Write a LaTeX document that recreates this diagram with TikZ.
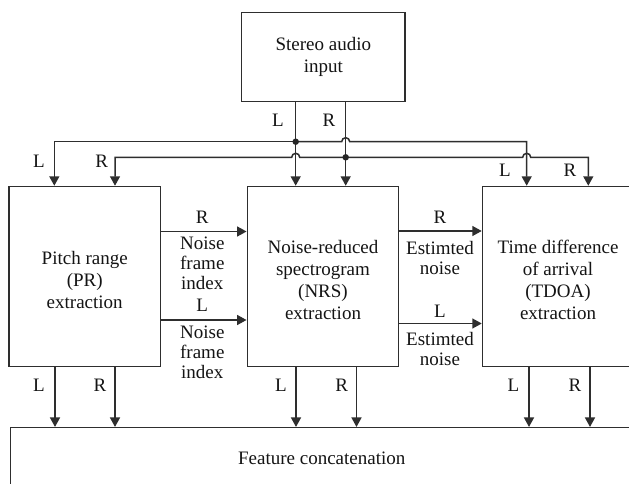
\documentclass[tikz,border=0pt]{standalone}
\usepackage{fontspec}
\setmainfont{Liberation Serif}
\usetikzlibrary{arrows.meta,calc}
\newcommand{\tallstrut}{\rule{0pt}{19.5pt}}
\begin{document}
\begin{tikzpicture}[x=1pt,y=1pt,
  ln/.style={draw=black!82,line width=1.5pt},
  arr/.style={ln,-{Triangle[length=9.5pt,width=10pt]}},
  box/.style={ln,rectangle,inner sep=0pt,align=center,font=\fontsize{19}{22}\selectfont,text=black!92},
  lbl/.style={inner sep=0pt,align=center,font=\fontsize{19}{20}\selectfont,text=black!92},
  dot/.style={circle,fill=black!85,inner sep=0pt,minimum size=6.5pt}]
\useasboundingbox (0,0) rectangle (629,-484);
\fill[white] (0,0) rectangle (629,-484);
% boxes
\node[box,minimum width=163.3pt,minimum height=89.4pt] (top) at (323.3,-57) {Stereo audio\\input};
\node[box,minimum width=151.3pt,minimum height=180.2pt] (pr) at (84.7,-276.6) {\tallstrut Pitch range\\(PR)\\extraction};
\node[box,minimum width=151.4pt,minimum height=180.2pt] (nrs) at (323,-276.6) {\tallstrut Noise-reduced\\spectrogram\\(NRS)\\extraction};
\node[box,minimum width=151pt,minimum height=180.2pt] (tdoa) at (558,-276.6) {\tallstrut Time difference\\of arrival\\(TDOA)\\extraction};
\node[box,minimum width=622.5pt,minimum height=60.3pt] (feat) at (321.75,-457.85) {Feature concatenation};
% bus coordinates
\coordinate (jL) at (295.7,-141.7);
\coordinate (jR) at (345.7,-157.3);
\coordinate (pL) at (54.3,-141.7);
\coordinate (pR) at (115,-157.3);
\coordinate (tL) at (526.7,-141.7);
\coordinate (tR) at (588.3,-157.3);
% verticals from input
\draw[arr] (top.south -| jL) -- (nrs.north -| jL);
\draw[arr] (top.south -| jR) -- (nrs.north -| jR);
% upper (L) bus
\draw[arr] (jL) -- (pL) -- (pL |- pr.north);
\draw[arr] (jL) -- ($(jR |- jL)+(-4,0)$) arc[start angle=180,end angle=0,radius=4] -- (tL) -- (tL |- tdoa.north);
% lower (R) bus
\draw[arr] (jR) -- ($(jL |- jR)+(4,0)$) arc[start angle=0,end angle=180,radius=4] -- (pR) -- (pR |- pr.north);
\draw[arr] (jR) -- ($(tL |- jR)+(-4,0)$) arc[start angle=180,end angle=0,radius=4] -- (tR) -- (tR |- tdoa.north);
\node[dot] (dL) at (jL) {};
\node[dot] (dR) at (jR) {};
% horizontal arrows between boxes
\coordinate (hR1) at (0,-231.5);
\coordinate (hL1) at (0,-320);
\coordinate (hR2) at (0,-231);
\coordinate (hL2) at (0,-323.5);
\draw[arr] (pr.east |- hR1) -- (nrs.west |- hR1);
\draw[arr] (pr.east |- hL1) -- (nrs.west |- hL1);
\draw[arr] (nrs.east |- hR2) -- (tdoa.west |- hR2);
\draw[arr] (nrs.east |- hL2) -- (tdoa.west |- hL2);
% outputs to concatenation
\coordinate (bx1) at (55,0);
\coordinate (bx2) at (115,0);
\coordinate (bx3) at (296,0);
\coordinate (bx4) at (356.5,0);
\coordinate (bx5) at (529,0);
\coordinate (bx6) at (590,0);
\foreach \c/\n in {bx1/pr,bx2/pr,bx3/nrs,bx4/nrs,bx5/tdoa,bx6/tdoa}
  \draw[arr] (\n.south -| \c) -- (feat.north -| \c);
% labels
\node[lbl] (lt1) at (278,-120) {L};
\node[lbl] (lt2) at (329,-120) {R};
\node[lbl] (lp1) at (39,-161.7) {L};
\node[lbl] (lp2) at (101.7,-161.7) {R};
\node[lbl] (ld1) at (505,-170.7) {L};
\node[lbl] (ld2) at (570,-170.7) {R};
\node[lbl] (m1) at (202.3,-217) {R};
\node[lbl] (m2) at (202.3,-263) {Noise\\frame\\index};
\node[lbl] (m3) at (202.3,-305) {L};
\node[lbl] (m4) at (202.3,-352.5) {Noise\\frame\\index};
\node[lbl] (e1) at (440,-217) {R};
\node[lbl] (e2) at (440,-258) {Estimted\\noise};
\node[lbl] (e3) at (440,-311.7) {L};
\node[lbl] (e4) at (440,-349) {Estimted\\noise};
\node[lbl] (b1) at (39,-385) {L};
\node[lbl] (b2) at (100,-385) {R};
\node[lbl] (b3) at (281,-385) {L};
\node[lbl] (b4) at (341.7,-385) {R};
\node[lbl] (b5) at (513.3,-385) {L};
\node[lbl] (b6) at (575,-385) {R};
\end{tikzpicture}
\end{document}
